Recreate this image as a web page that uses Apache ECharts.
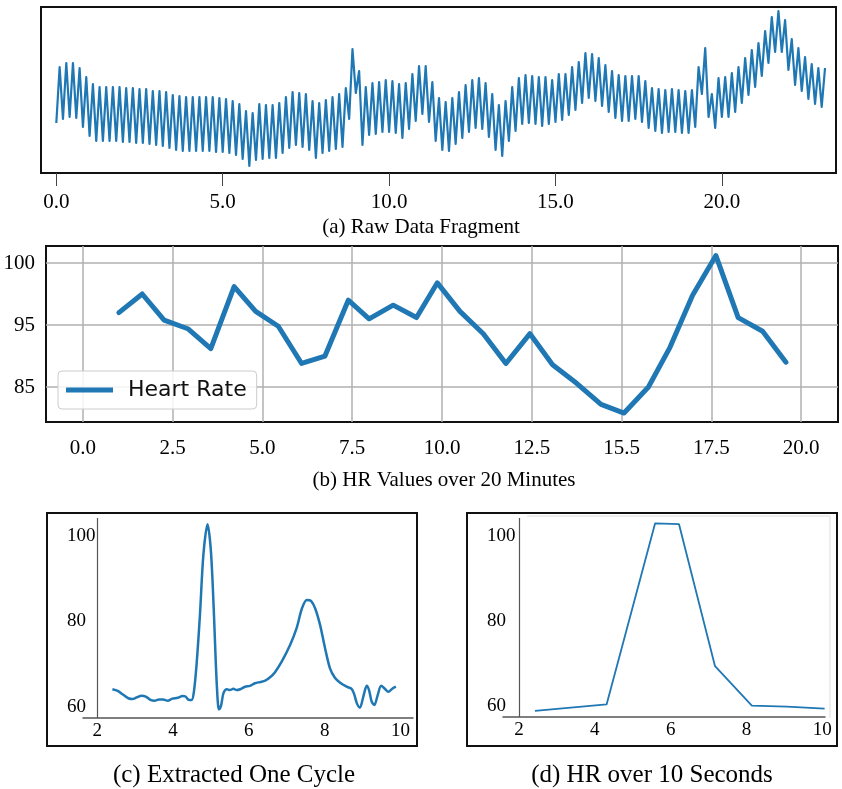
<!DOCTYPE html>
<html>
<head>
<meta charset="utf-8">
<script src="https://cdn.jsdelivr.net/npm/echarts@6/dist/echarts.min.js"></script>
<style>
  html, body { margin: 0; padding: 0; background: #fff; }
  #chart { width: 842px; height: 789px; }
</style>
</head>
<body>
<div id="chart"></div>
<script>
// ---------- (a) raw signal fragment: one sample every 0.1 s ----------
const RAW_STEP = 0.1;
const rawSignal = [
  50, 106, 54, 110, 56, 110, 55, 105, 46, 96,
  37, 89, 32, 86, 32, 86, 32, 86, 32, 86,
  31, 85, 31, 85, 30, 84, 30, 84, 29, 82,
  28, 82, 27, 81, 25, 78, 23, 77, 22, 76,
  22, 76, 22, 76, 22, 76, 22, 76, 21, 75,
  21, 74, 20, 72, 18, 69, 14, 62, 7, 60,
  13, 69, 14, 68, 15, 68, 15, 70, 20, 76,
  25, 81, 28, 80, 26, 79, 23, 72, 15, 70,
  20, 73, 22, 76, 24, 79, 26, 85, 54, 124,
  80, 102, 28, 86, 38, 90, 39, 91, 41, 93,
  41, 92, 40, 89, 35, 90, 44, 99, 52, 107,
  59, 107, 51, 91, 32, 75, 23, 71, 22, 75,
  29, 81, 35, 88, 41, 93, 45, 95, 44, 90,
  36, 79, 23, 68, 17, 72, 32, 86, 42, 95,
  49, 98, 50, 97, 49, 96, 47, 96, 49, 93,
  51, 99, 53, 99, 58, 106, 63, 111, 70, 120,
  75, 119, 72, 115, 67, 108, 61, 102, 55, 98,
  52, 97, 52, 97, 54, 97, 51, 92, 45, 85,
  42, 84, 40, 83, 41, 84, 41, 83, 40, 82,
  40, 83, 46, 106, 79, 125, 56, 79, 45, 95,
  56, 96, 56, 100, 61, 106, 70, 115, 78, 123,
  86, 130, 97, 142, 110, 156, 121, 162, 121, 153,
  103, 134, 88, 125, 82, 116, 74, 109, 69, 105,
  66, 105
];
const rawTicks = [0, 5, 10, 15, 20];

// ---------- (b) heart rate over 20 minutes ----------
const hrMinutes = [1.00, 1.65, 2.26, 2.92, 3.56, 4.21, 4.81, 5.44, 6.09, 6.74,
                   7.39, 7.97, 8.64, 9.29, 9.87, 10.50, 11.15, 11.78, 12.45, 13.08,
                   13.75, 14.43, 15.07, 15.75, 16.35, 16.98, 17.63, 18.25, 18.93, 19.58];
const hrValues = [96.0, 97.5, 95.4, 94.7, 93.1, 98.1, 96.1, 94.9, 91.9, 92.5,
                  97.0, 95.5, 96.6, 95.6, 98.4, 96.1, 94.3, 91.9, 94.3, 91.8,
                  90.3, 88.6, 87.9, 90.0, 93.2, 97.4, 100.6, 95.6, 94.5, 92.0];
const hrXTicks = [0, 2.5, 5, 7.5, 10, 12.5, 15, 17.5, 20];
const hrXTickLabels = ['0.0', '2.5', '5.0', '7.5', '10.0', '12.5', '15.5', '17.5', '20.0'];
const hrYTicks = [90, 95, 100];
const hrYTickLabels = ['85', '95', '100'];

// ---------- (c) one extracted cycle ----------
const cycleX = [2.40, 2.54, 2.69, 2.82, 2.93, 3.04, 3.17, 3.28, 3.39, 3.51,
                3.63, 3.74, 3.86, 3.98, 4.12, 4.25, 4.33, 4.40, 4.49, 4.55,
                4.62, 4.71, 4.80, 4.91, 5.00, 5.08, 5.13, 5.18, 5.21, 5.27,
                5.33, 5.42, 5.50, 5.59, 5.68, 5.77, 5.90, 6.03, 6.16, 6.30,
                6.43, 6.56, 6.69, 6.87, 7.09, 7.26, 7.40, 7.53, 7.64, 7.75,
                7.88, 8.01, 8.14, 8.27, 8.41, 8.58, 8.71, 8.78, 8.85, 8.93,
                9.02, 9.11, 9.17, 9.24, 9.31, 9.40, 9.49, 9.58, 9.68, 9.79, 9.88];
const cycleY = [64.1, 63.7, 62.8, 62.0, 61.8, 62.2, 62.6, 62.4, 61.7, 61.4,
                61.7, 61.7, 61.4, 61.9, 62.1, 62.5, 62.4, 61.7, 61.6, 63.5,
                69.8, 81.5, 95.5, 102.7, 96.3, 81.5, 69.8, 61.2, 59.4, 60.4,
                63.2, 64.1, 63.9, 64.2, 63.9, 64.1, 64.7, 64.9, 65.5, 65.8,
                66.1, 66.9, 68.1, 70.6, 74.5, 78.4, 83.0, 85.0, 84.8, 83.0,
                79.1, 73.7, 69.0, 66.8, 65.6, 64.7, 64.2, 62.9, 60.8, 59.8,
                62.4, 64.9, 63.9, 61.2, 60.4, 62.8, 64.9, 64.3, 63.5, 64.3, 64.7];

// ---------- (d) heart rate over 10 seconds ----------
const tenSecX = [2.42, 4.31, 5.59, 6.22, 7.17, 8.14, 9.06, 10.06];
const tenSecY = [58.8, 60.3, 102.9, 102.7, 69.3, 60.0, 59.8, 59.3];

const smallXTicks = [2, 4, 6, 8, 10];
const smallYTicks = [60, 80, 100];

// ---------- styling ----------
const SERIF = '"Liberation Serif", "Times New Roman", serif';
const SANS = '"DejaVu Sans", sans-serif';
const BLUE = '#1f77b4';
const pairs = (xs, ys) => xs.map((x, i) => [x, ys[i]]);

const serifLabel = (extra) => Object.assign({
  fontFamily: SERIF, fontSize: 21, color: '#000'
}, extra);

const chart = echarts.init(document.getElementById('chart'), null, {
  renderer: 'canvas', width: 842, height: 789
});

const option = {
  animation: false,
  backgroundColor: '#fff',
  grid: [
    { left: 41, top: 7, width: 795, height: 166, show: true,
      borderColor: '#111', borderWidth: 2, backgroundColor: 'transparent', outerBoundsMode: 'none' },
    { left: 46, top: 246, width: 792, height: 176, show: true,
      borderColor: '#111', borderWidth: 2, backgroundColor: 'transparent', outerBoundsMode: 'none' },
    { left: 83, top: 518, width: 330, height: 200, outerBoundsMode: 'none' },
    { left: 503, top: 518, width: 322, height: 199, outerBoundsMode: 'none' }
  ],
  xAxis: [
    { gridIndex: 0, type: 'value', min: -0.46, max: 23.43,
      axisLine: { show: false },
      axisTick: { show: true, customValues: rawTicks, length: 13, lineStyle: { color: '#444', width: 1 } },
      axisLabel: serifLabel({ customValues: rawTicks, margin: 19, formatter: v => v.toFixed(1) }),
      splitLine: { show: false } },
    { gridIndex: 1, type: 'value', min: -1.03, max: 21.03,
      axisLine: { show: false },
      axisTick: { show: false, customValues: hrXTicks },
      axisLabel: serifLabel({ customValues: hrXTicks, margin: 16,
        formatter: v => hrXTickLabels[hrXTicks.indexOf(v)] }),
      splitLine: { show: true, lineStyle: { color: '#b0b0b0', width: 1.5 } } },
    { gridIndex: 2, type: 'value', min: 1.625, max: 10.33,
      axisLine: { show: true, onZero: false, lineStyle: { color: '#555', width: 1.5 } },
      axisTick: { show: false, customValues: smallXTicks },
      axisLabel: serifLabel({ customValues: smallXTicks, margin: 4, fontSize: 19 }),
      splitLine: { show: false } },
    { gridIndex: 3, type: 'value', min: 1.578, max: 10.07,
      axisLine: { show: true, onZero: false, lineStyle: { color: '#555', width: 1.5 } },
      axisTick: { show: false, customValues: smallXTicks },
      axisLabel: serifLabel({ customValues: smallXTicks, margin: 4, fontSize: 19 }),
      splitLine: { show: false } }
  ],
  yAxis: [
    { gridIndex: 0, type: 'value', min: 0, max: 166, show: false },
    { gridIndex: 1, type: 'value', min: 87.18, max: 101.37,
      axisLine: { show: false },
      axisTick: { show: false, customValues: hrYTicks },
      axisLabel: serifLabel({ customValues: hrYTicks, margin: 11,
        formatter: v => hrYTickLabels[hrYTicks.indexOf(v)] }),
      splitLine: { show: true, lineStyle: { color: '#b0b0b0', width: 1.5 } } },
    { gridIndex: 2, type: 'value', min: 57.38, max: 104.16,
      axisLine: { show: false },
      axisTick: { show: false, customValues: smallYTicks },
      axisLabel: serifLabel({ customValues: smallYTicks, margin: 16, align: 'left', fontSize: 19 }),
      splitLine: { show: false } },
    { gridIndex: 3, type: 'value', min: 57.34, max: 104.16,
      axisLine: { show: false },
      axisTick: { show: false, customValues: smallYTicks },
      axisLabel: serifLabel({ customValues: smallYTicks, margin: 16, align: 'left', fontSize: 19 }),
      splitLine: { show: false } }
  ],
  legend: {
    data: ['Heart Rate'],
    left: 58, top: 371,
    orient: 'horizontal',
    icon: 'rect',
    itemWidth: 47, itemHeight: 5,
    padding: [8, 10, 8, 8],
    backgroundColor: 'rgba(255,255,255,0.85)',
    borderColor: '#cccccc', borderWidth: 1, borderRadius: 4,
    textStyle: { fontFamily: SANS, fontSize: 22, color: '#111', padding: [0, 0, 0, 10] }
  },
  series: [
    { type: 'line', name: 'Raw', xAxisIndex: 0, yAxisIndex: 0,
      data: rawSignal.map((v, i) => [i * RAW_STEP, v]),
      symbol: 'none', lineStyle: { color: BLUE, width: 2.2, join: 'round' }, z: 3 },
    { type: 'line', name: 'Heart Rate', xAxisIndex: 1, yAxisIndex: 1,
      data: pairs(hrMinutes, hrValues),
      symbol: 'none', itemStyle: { color: BLUE },
      lineStyle: { color: BLUE, width: 5, join: 'round', cap: 'round' }, z: 3 },
    { type: 'line', name: 'Cycle', xAxisIndex: 2, yAxisIndex: 2,
      data: pairs(cycleX, cycleY), smooth: 0.3,
      symbol: 'none', lineStyle: { color: BLUE, width: 2.5 }, z: 3,
      markLine: { silent: true, symbol: ['none', 'none'], label: { show: false },
        lineStyle: { color: '#555', width: 1.2, type: 'solid' }, data: [{ xAxis: 2 }] } },
    { type: 'line', name: 'HR10', xAxisIndex: 3, yAxisIndex: 3,
      data: pairs(tenSecX, tenSecY),
      symbol: 'none', lineStyle: { color: BLUE, width: 1.8 }, z: 3,
      markLine: { silent: true, symbol: ['none', 'none'], label: { show: false },
        lineStyle: { color: '#555', width: 1.2, type: 'solid' }, data: [{ xAxis: 2 }] } }
  ],
  graphic: [
    { type: 'rect', shape: { x: 47, y: 513, width: 370, height: 233 },
      style: { fill: 'none', stroke: '#111', lineWidth: 2 }, silent: true },
    { type: 'rect', shape: { x: 467, y: 513, width: 370, height: 233 },
      style: { fill: 'none', stroke: '#111', lineWidth: 2 }, silent: true },
    { type: 'polyline', shape: { points: [[527, 516], [830, 516], [830, 718]] },
      style: { fill: 'none', stroke: '#dddddd', lineWidth: 1 }, silent: true },
    { type: 'text', x: 421, y: 227, silent: true,
      style: { text: '(a) Raw Data Fragment', fontFamily: SERIF, fontSize: 21, fill: '#000',
        align: 'center', verticalAlign: 'middle', textAlign: 'center', textVerticalAlign: 'middle' } },
    { type: 'text', x: 444, y: 480, silent: true,
      style: { text: '(b) HR Values over 20 Minutes', fontFamily: SERIF, fontSize: 21, fill: '#000',
        align: 'center', verticalAlign: 'middle', textAlign: 'center', textVerticalAlign: 'middle' } },
    { type: 'text', x: 234, y: 775, silent: true,
      style: { text: '(c) Extracted One Cycle', fontFamily: SERIF, fontSize: 25, fill: '#000',
        align: 'center', verticalAlign: 'middle', textAlign: 'center', textVerticalAlign: 'middle' } },
    { type: 'text', x: 652, y: 775, silent: true,
      style: { text: '(d) HR over 10 Seconds', fontFamily: SERIF, fontSize: 25, fill: '#000',
        align: 'center', verticalAlign: 'middle', textAlign: 'center', textVerticalAlign: 'middle' } }
  ]
};

chart.setOption(option);
</script>
</body>
</html>
